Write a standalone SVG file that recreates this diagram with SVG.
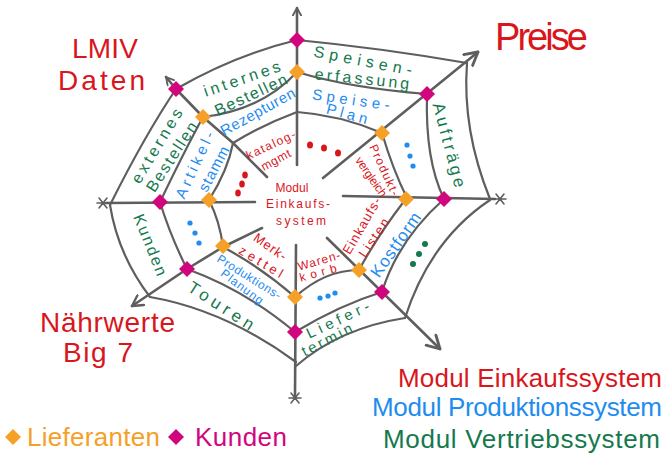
<svg xmlns="http://www.w3.org/2000/svg" width="666" height="458" viewBox="0 0 666 458">
<style>
 .sp{fill:none;stroke:#5e5e5e;stroke-width:2.6;stroke-linecap:round;stroke-linejoin:round}
 .rg{fill:none;stroke:#5e5e5e;stroke-width:2.2;stroke-linecap:round}
 .st{fill:none;stroke:#5e5e5e;stroke-width:1.6;stroke-linecap:round}
 text{font-family:"Liberation Sans",Arial,sans-serif}
 .r{fill:#d9161c}.b{fill:#1f8cf0}.g{fill:#15794e}.o{fill:#f5a027}.m{fill:#d1067f}
 .t{text-anchor:middle}
 .f12{font-size:12px}.f13{font-size:13px}.f15{font-size:15px}.f16{font-size:16px}.f17{font-size:17px}
 .big{font-size:28px}.leg{font-size:26px}
</style>
<defs>
 <path id="dia" d="M0,-8 L8,0 L0,8 L-8,0Z" stroke-linejoin="round"/>
 <marker id="arS" viewBox="0 0 12 12" refX="10" refY="6" markerWidth="10" markerHeight="10" orient="auto" markerUnits="userSpaceOnUse">
  <path d="M1,1 L10,6 L1,11" fill="none" stroke="#5e5e5e" stroke-width="2.2" stroke-linecap="round" stroke-linejoin="round"/>
 </marker>
 <marker id="arL" viewBox="0 0 12 12" refX="10" refY="6" markerWidth="17" markerHeight="17" orient="auto" markerUnits="userSpaceOnUse">
  <path d="M1,1 L10,6 L1,11" fill="none" stroke="#5e5e5e" stroke-width="2" stroke-linecap="round" stroke-linejoin="round"/>
 </marker>
 <marker id="arM" viewBox="0 0 12 12" refX="10" refY="6" markerWidth="14" markerHeight="14" orient="auto" markerUnits="userSpaceOnUse">
  <path d="M1,1 L10,6 L1,11" fill="none" stroke="#5e5e5e" stroke-width="2" stroke-linecap="round" stroke-linejoin="round"/>
 </marker>
</defs>
<rect width="666" height="458" fill="#ffffff"/>

<g id="connectors">
 <path class="sp" d="M297,165 L297,8" marker-end="url(#arS)"/>
 <path class="sp" d="M323,178 L478,52" marker-end="url(#arL)"/>
 <path class="sp" d="M343,196 L495,199"/>
 <path class="sp" d="M327,238 L440,349" marker-end="url(#arL)"/>
 <path class="sp" d="M296,245 L295,396"/>
 <path class="sp" d="M262,228 L223,247 L187,269 L132,306" marker-end="url(#arM)"/>
 <path class="sp" d="M255,202 L106,203"/>
 <path class="sp" d="M267,177 L233,143 L203,117 L176,89 L166,77" marker-end="url(#arS)"/>
 <path class="rg" d="M297,40 Q380,48 467,63"/>
 <path class="rg" d="M467,63 Q462,130 490,199"/>
 <path class="rg" d="M490,200 Q430,240 405,318"/>
 <path class="rg" d="M405,318 Q340,328 296,366" stroke-width="3"/>
 <path class="rg" d="M296,362 Q225,310 150,297"/>
 <path class="rg" d="M150,297 Q118,255 110,205"/>
 <path class="rg" d="M110,205 Q145,135 176,89"/>
 <path class="rg" d="M176,89 Q235,55 297,40"/>
 <path class="rg" d="M297,72 Q350,88 427,94"/>
 <path class="rg" d="M427,94 Q425,160 444,199"/>
 <path class="rg" d="M444,199 Q398,240 382,292"/>
 <path class="rg" d="M382,292 Q340,305 295,332"/>
 <path class="rg" d="M295,332 Q245,290 187,269"/>
 <path class="rg" d="M187,269 Q170,235 160,202"/>
 <path class="rg" d="M160,202 Q185,150 203,117"/>
 <path class="rg" d="M203,117 Q262,110 297,72"/>
 <path class="rg" d="M233,143 Q262,125 297,112"/>
 <path class="rg" d="M297,112 Q340,115 382,133"/>
 <path class="rg" d="M382,133 Q393,170 407,198"/>
 <path class="rg" d="M405,200 Q378,235 359,270"/>
 <path class="rg" d="M359,270 Q325,270 295,297" stroke-width="3"/>
 <path class="rg" d="M295,297 Q262,268 223,247"/>
 <path class="rg" d="M223,247 Q220,222 209,200"/>
 <path class="rg" d="M209,200 Q228,170 233,143"/>
 <path class="st" d="M494,199 L506,199 M496,194 L504,204 M496,204 L504,194"/>
 <path class="st" d="M289,398 L301,398 M291,393 L299,403 M291,403 L299,393"/>
 <path class="st" d="M97,203 L109,203 M99,198 L107,208 M99,208 L107,198"/>
</g>

<g id="lieferanten-nodes" class="o">
 <use href="#dia" x="297" y="72"/>
 <use href="#dia" x="382" y="133"/>
 <use href="#dia" x="406" y="199"/>
 <use href="#dia" x="359" y="270"/>
 <use href="#dia" x="295" y="297"/>
 <use href="#dia" x="223" y="246"/>
 <use href="#dia" x="209" y="200"/>
 <use href="#dia" x="203" y="117"/>
</g>
<g id="kunden-nodes" class="m">
 <use href="#dia" x="297" y="40"/>
 <use href="#dia" x="427" y="94"/>
 <use href="#dia" x="444" y="199"/>
 <use href="#dia" x="382" y="292"/>
 <use href="#dia" x="295" y="332"/>
 <use href="#dia" x="187" y="269"/>
 <use href="#dia" x="160" y="202"/>
 <use href="#dia" x="176" y="89"/>
</g>

<g id="center">
 <text class="r t f12" x="292" y="192" textLength="33">Modul</text>
 <text class="r t f12" x="298" y="208" textLength="64">Einkaufs-</text>
 <text class="r t f12" x="301" y="225" textLength="50">system</text>
</g>

<g id="katalog">
 <text class="r t f12" transform="translate(271,145) rotate(-25)" dy=".32em" textLength="53">katalog-</text>
 <text class="r t f12" transform="translate(276,160) rotate(-28)" dy=".32em" textLength="32">mgmt</text>
</g>
<g id="produktvergleich">
 <text class="r t f12" transform="translate(384,170) rotate(65)" dy=".32em" textLength="55">Produkt-</text>
 <text class="r t f12" transform="translate(371,177) rotate(55)" dy=".32em" textLength="46">vergleich</text>
</g>
<g id="einkaufslisten">
 <text class="r t f13" transform="translate(362,226) rotate(-60)" dy=".32em" textLength="63">Einkaufs-</text>
 <text class="r t f13" transform="translate(374,238) rotate(-56)" dy=".32em" textLength="44">Listen</text>
</g>
<g id="warenkorb">
 <text class="r t f12" transform="translate(319,261) rotate(-16)" dy=".32em" textLength="44">Waren-</text>
 <text class="r t f12" transform="translate(318,273) rotate(-15)" dy=".32em" textLength="38">korb</text>
</g>
<g id="merkzettel">
 <text class="r t f13" transform="translate(270,247) rotate(35)" dy=".32em" textLength="37">Merk-</text>
 <text class="r t f13" transform="translate(261,262) rotate(31)" dy=".32em" textLength="49">zettel</text>
</g>
<g id="red-dots" class="r">
 <ellipse cx="310" cy="145" rx="3" ry="3.5"/>
 <ellipse cx="324" cy="148" rx="3" ry="3.5"/>
 <ellipse cx="338" cy="153" rx="3" ry="3.5"/>
 <ellipse cx="245" cy="175" rx="2.8" ry="3.6"/>
 <ellipse cx="242" cy="184" rx="2.8" ry="3.6"/>
 <ellipse cx="238" cy="193" rx="2.8" ry="3.6"/>
</g>

<g id="rezepturen">
 <text class="b t f15" transform="translate(258,112) rotate(-29)" dy=".32em" textLength="83">Rezepturen</text>
</g>
<g id="speiseplan">
 <text class="b t f15" transform="translate(351,100) rotate(8)" dy=".32em" textLength="78">Speise-</text>
 <text class="b t f15" transform="translate(347,114) rotate(15)" dy=".32em" textLength="42">Plan</text>
</g>
<g id="kostform">
 <text class="b t f17" transform="translate(396,245) rotate(-55)" dy=".32em" textLength="75">Kostform</text>
</g>
<g id="produktionsplanung">
 <text class="b t f12" transform="translate(249,277) rotate(32)" dy=".32em" textLength="73">Produktions-</text>
 <text class="b t f12" transform="translate(242,287) rotate(37)" dy=".32em" textLength="50">Planung</text>
</g>
<g id="artikelstamm">
 <text class="b t f15" transform="translate(195,165) rotate(-65)" dy=".32em" textLength="72">Artikel-</text>
 <text class="b t f15" transform="translate(214,169) rotate(-62)" dy=".32em" textLength="49">stamm</text>
</g>
<g id="blue-dots" class="b">
 <circle cx="407" cy="145" r="2.6"/><circle cx="410" cy="156" r="2.6"/><circle cx="413" cy="166" r="2.6"/>
 <circle cx="190" cy="223" r="2.6"/><circle cx="195" cy="233" r="2.6"/><circle cx="199" cy="243" r="2.6"/>
 <circle cx="320" cy="298" r="2.6"/><circle cx="328" cy="296" r="2.6"/><circle cx="335" cy="293" r="2.6"/>
</g>

<g id="internes-bestellen">
 <text class="g t f16" transform="translate(242,79) rotate(-19)" dy=".32em" textLength="80">internes</text>
 <text class="g t f16" transform="translate(251,95) rotate(-25)" dy=".32em" textLength="78">Bestellen</text>
</g>
<g id="speisenerfassung">
 <text class="g t f16" transform="translate(363,61) rotate(11)" dy=".32em" textLength="100">Speisen-</text>
 <text class="g t f16" transform="translate(362,79) rotate(6)" dy=".32em" textLength="95">erfassung</text>
</g>
<g id="auftraege">
 <text class="g t f17" transform="translate(449,145) rotate(75)" dy=".32em" textLength="87">Aufträge</text>
</g>
<g id="green-dots" class="g">
 <circle cx="413" cy="264" r="3"/><circle cx="419" cy="254" r="3"/><circle cx="425" cy="244" r="3"/>
</g>
<g id="liefertermin">
 <text class="g t f15" transform="translate(338,320) rotate(-25)" dy=".32em" textLength="68">Liefer-</text>
 <text class="g t f15" transform="translate(327,340) rotate(-27)" dy=".32em" textLength="55">termin</text>
</g>
<g id="touren">
 <text class="g t f17" transform="translate(221,306) rotate(33)" dy=".32em" textLength="75">Touren</text>
</g>
<g id="kunden-label">
 <text class="g t f16" transform="translate(150,245) rotate(68)" dy=".32em" textLength="65">Kunden</text>
</g>
<g id="externes-bestellen">
 <text class="g t f16" transform="translate(157,146) rotate(-59)" dy=".32em" textLength="84">externes</text>
 <text class="g t f16" transform="translate(172,157) rotate(-57)" dy=".32em" textLength="80">Bestellen</text>
</g>

<g id="lmiv">
 <text class="r big" x="72" y="58" textLength="66">LMIV</text>
 <text class="r big" x="58" y="90" textLength="87">Daten</text>
</g>
<g id="preise">
 <text class="r" x="495" y="50" style="font-size:38px" textLength="93">Preise</text>
</g>
<g id="naehrwerte">
 <text class="r big" x="40" y="332" textLength="135">Nährwerte</text>
 <text class="r big" x="63" y="362" textLength="70">Big 7</text>
</g>

<g id="module-legend">
 <text class="r leg" x="398" y="387" textLength="264">Modul Einkaufssystem</text>
 <text class="b leg" x="372" y="416" textLength="290">Modul Produktionssystem</text>
 <text class="g leg" x="383" y="448" textLength="277">Modul Vertriebssystem</text>
</g>
<g id="node-legend">
 <use href="#dia" x="13" y="437" class="o"/>
 <text class="o leg" x="27" y="446" textLength="133">Lieferanten</text>
 <use href="#dia" x="176" y="437" class="m"/>
 <text class="m leg" x="195" y="446" textLength="92">Kunden</text>
</g>
</svg>
